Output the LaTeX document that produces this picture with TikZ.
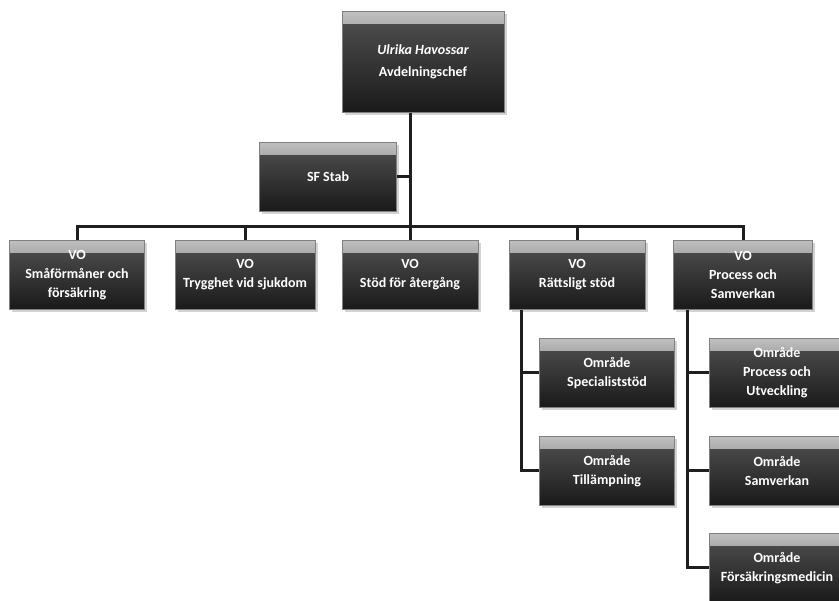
\documentclass[tikz,border=0pt]{standalone}
\usepackage{fontspec}
\setmainfont{Carlito}
\usetikzlibrary{shadows}

\tikzset{
  box/.style={draw=black!50, line width=0.6pt, top color=black!68, bottom color=black!90,
    minimum width=136pt, minimum height=69pt, inner sep=2pt, align=center, text=white,
    font=\bfseries\fontsize{14}{19}\selectfont,
    drop shadow={shadow xshift=2.5pt, shadow yshift=-2.5pt, opacity=.35},
    path picture={\shade[top color=black!25, bottom color=black!69]
      ([yshift=-1pt]path picture bounding box.north west) rectangle
      ([yshift=-12pt]path picture bounding box.north east);}},
  link/.style={line width=3pt, draw=black!88}
}

\begin{document}
\begin{tikzpicture}[x=1pt, y=-1pt]
    \useasboundingbox (0, 0) rectangle (839, 601);

    \node (boss) at (423, 62) [box, minimum width=162pt, minimum height=101pt]
      {\itshape Ulrika Havossar\\[3pt] Avdelningschef};
    \node (stab) at (328, 177) [box, minimum width=137pt] {SF Stab};

    \node (vo1) at (77, 275) [box, minimum width=135pt] {VO\\ Småförmåner och\\ försäkring};
    \node (vo2) at (245, 275) [box, minimum width=140pt] {VO\\ Trygghet vid sjukdom};
    \node (vo3) at (410, 275) [box] {VO\\ Stöd för återgång};
    \node (vo4) at (577, 275) [box] {VO\\ Rättsligt stöd};
    \node (vo5) at (743, 275) [box, minimum width=139pt] {VO\\ Process och\\ Samverkan};

    \node (spec) at (607, 373) [box, minimum width=135pt] {Område\\ Specialiststöd};
    \node (till) at (607, 471) [box, minimum width=135pt] {Område\\ Tillämpning};

    \node (utv) at (777, 373) [box] {Område\\ Process och\\ Utveckling};
    \node (samv) at (777, 471) [box] {Område\\ Samverkan};
    \node (fmed) at (777, 568) [box] {Område\\ Försäkringsmedicin};

    % trunk and bus
    \coordinate (bus) at (410, 227);
    \draw [link] (boss.south -| bus) -- (bus);
    \draw [link] (stab.east) -- (stab.east -| bus);
    \foreach \n in {vo1, vo2, vo3, vo4, vo5}
      \draw [link] (bus) -| (\n.north);

    % areas
    \foreach \n in {spec, till}
      \draw [link] ([xshift=-56pt]vo4.south) |- (\n.west);
    \foreach \n in {utv, samv, fmed}
      \draw [link] ([xshift=-56pt]vo5.south) |- (\n.west);
  \end{tikzpicture}
\end{document}
